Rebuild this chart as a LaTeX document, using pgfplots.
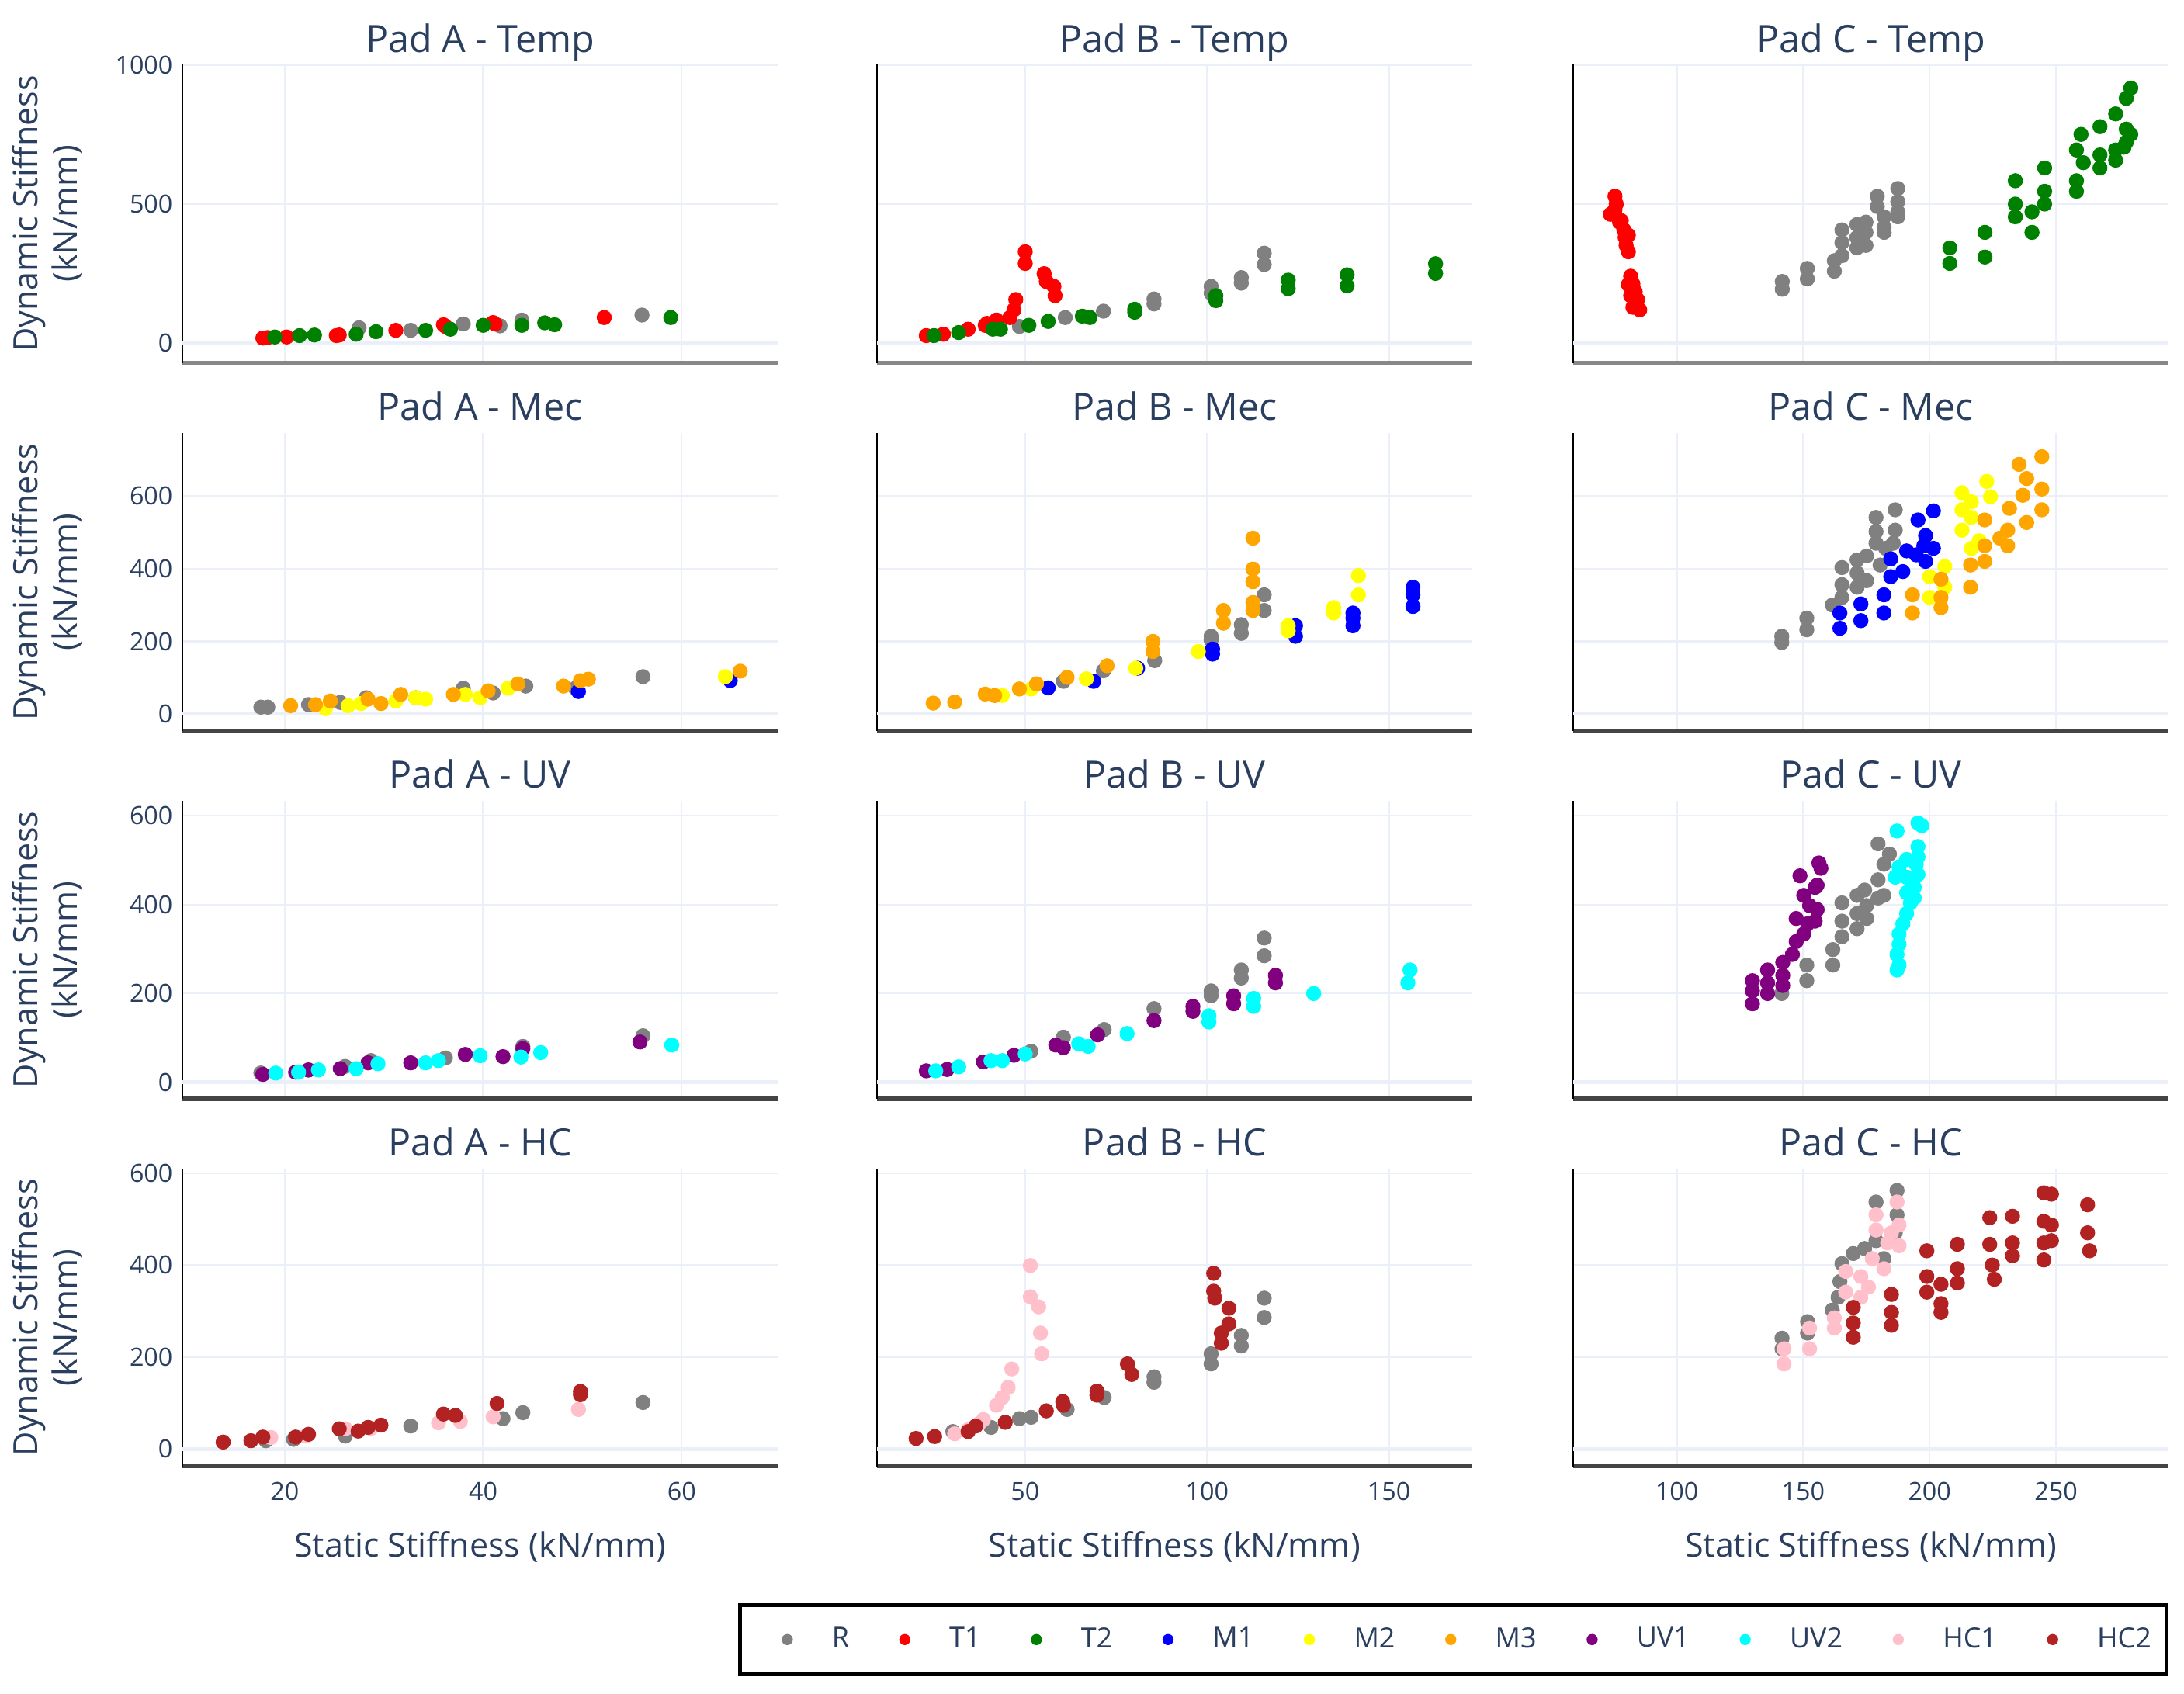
\documentclass[border=0pt]{standalone}
\usepackage{fontspec}
\setmainfont{Open Sans}
\usepackage{pgfplots}
\pgfplotsset{compat=1.18}
\definecolor{cR}{HTML}{808080}
\definecolor{cT1}{HTML}{FF0000}
\definecolor{cT2}{HTML}{008000}
\definecolor{cM1}{HTML}{0000FF}
\definecolor{cM2}{HTML}{FFFF00}
\definecolor{cM3}{HTML}{FFA500}
\definecolor{cUV1}{HTML}{800080}
\definecolor{cUV2}{HTML}{00FFFF}
\definecolor{cHC1}{HTML}{FFC0CB}
\definecolor{cHC2}{HTML}{B22222}
\definecolor{gridc}{HTML}{EBF0F8}
\definecolor{txt}{HTML}{2A3F5F}
\definecolor{lineA}{HTML}{888888}
\definecolor{lineB}{HTML}{444444}
\pgfplotsset{
  pad/.style={scale only axis, width=213.75pt, height=107pt, anchor=north west,
    axis lines=left, axis line style={-},
    y axis line style={black, line width=0.6pt},
    x axis line style={line width=1.4pt, color=#1},
    major tick length=0pt, grid=major, grid style={gridc, line width=0.6pt},
    extra y ticks={0}, extra y tick labels={}, extra y tick style={grid style={gridc, line width=1.3pt}},
    scaled ticks=false, /pgf/number format/1000 sep={}, /pgf/number format/assume math mode=true,
    tick label style={font=\fontsize{9}{10}\selectfont, text=txt},
    xticklabel style={yshift=-2pt},
    title style={font=\fontsize{13.5}{15}\selectfont, text=txt, at={(0.5,1)}, anchor=base, yshift=-1.5pt},
    every axis y label/.style={at={(axis description cs:-0.2269,0.5)}, rotate=90, anchor=center, align=center, font=\fontsize{12}{14}\selectfont, text=txt},
    every axis x label/.style={at={(axis description cs:0.5,-0.271)}, anchor=center, font=\fontsize{12}{14}\selectfont, text=txt},
  },
  colA/.style={xmin=9.7, xmax=69.7, xtick={20,40,60}},
  colB/.style={xmin=9.2, xmax=172.9, xtick={50,100,150}},
  colC/.style={xmin=59.0, xmax=294.6, xtick={100,150,200,250}},
  mk/.style={only marks, mark=*, mark size=2.5pt, color=#1, mark options={draw=none, fill=#1},
    legend image code/.code={\path[draw=none,fill=none] (-3pt,-3pt) rectangle (3pt,3pt); \path[draw=none,fill=#1] (0pt,0pt) circle (2pt);}},
}
\begin{document}
\begin{tikzpicture}
\useasboundingbox (0pt,0pt) rectangle (784pt,-608pt);
% ---------------- Row 1: Temp
\begin{axis}[pad=lineA, colA, at={(65.5pt,-23.25pt)}, ymin=-72, ymax=1002, ytick={0,500,1000}, xticklabels={},
  title={Pad A - Temp}, ylabel={Dynamic Stiffness\\(kN/mm)}]
\addplot[mk=cR] coordinates {(27.5,54)(32.7,45)(38.0,68)(41.7,61)(43.9,82)(56.0,100)};
\addplot[mk=cT1] coordinates {(17.8,17)(18.3,19)(20.2,21)(25.2,26)(25.5,28)(31.2,45)(36.2,59)(36.0,65)(41.2,68)(41.0,73)(52.2,91)};
\addplot[mk=cT2] coordinates {(19.0,21)(21.5,26)(23.0,28)(27.2,31)(29.2,40)(34.2,45)(36.7,49)(40.0,63)(43.9,63)(46.2,72)(47.2,65)(58.9,91)};
\end{axis}
\begin{axis}[pad=lineA, colB, at={(314.75pt,-23.25pt)}, ymin=-72, ymax=1002, ytick={0,500,1000}, xticklabels={}, yticklabels={},
  title={Pad B - Temp}]
\addplot[mk=cR] coordinates {(48.4,59)(61.0,91)(71.5,114)(85.4,158)(85.4,140)(101.1,203)(101.1,179)(109.4,235)(109.4,215)(115.7,323)(115.7,282)};
\addplot[mk=cT1] coordinates {(22.8,26)(27.5,31)(34.3,49)(39.0,63)(39.5,70)(42.1,82)(45.8,91)(46.9,119)(47.4,156)(50,328)(50,286)(55.2,249)(55.8,221)(57.9,203)(58.2,170)};
\addplot[mk=cT2] coordinates {(24.9,26)(31.7,37)(41.1,49)(43.2,49)(51.0,63)(56.3,77)(65.7,96)(67.8,91)(80.1,121)(80.1,110)(102.4,152)(102.4,170)(122.3,226)(122.3,195)(138.5,245)(138.5,205)(162.8,285)(162.8,250)};
\end{axis}
\begin{axis}[pad=lineA, colC, at={(564.75pt,-23.25pt)}, ymin=-72, ymax=1002, ytick={0,500,1000}, xticklabels={}, yticklabels={},
  title={Pad C - Temp}]
\addplot[mk=cR] coordinates {(141.7,193)(141.7,221)(151.6,230)(151.6,268)(162.3,258)(162.3,296)(165.3,314)(165.3,361)(165.3,407)(171.2,342)(171.2,379)(171.2,426)(174.8,351)(174.8,398)(174.8,435)(179.3,528)(179.3,491)(182.0,416)(182.0,454)(182.0,398)(187.4,472)(187.4,509)(187.4,556)(187.4,454)};
\addplot[mk=cT1] coordinates {(75.5,528)(76,500)(73.7,463)(77.3,435)(79,407)(80.8,388)(79.9,351)(80.8,328)(75.5,480)(78,440)(79.5,380)(81.7,240)(82.6,212)(83.5,184)(84.4,156)(82.6,128)(85.3,119)(80.8,210)(81.7,170)(83.5,140)};
\addplot[mk=cT2] coordinates {(208.0,286)(208.0,342)(221.9,309)(221.9,398)(233.9,454)(233.9,584)(233.9,500)(240.5,472)(240.5,398)(245.5,630)(245.5,546)(245.5,500)(258.1,546)(258.1,584)(258.1,695)(259.9,751)(260.8,649)(267.4,779)(267.4,677)(267.4,630)(273.6,825)(273.6,658)(273.6,695)(277.8,770)(277.8,723)(277.8,881)(279.6,918)(276.9,705)(279.6,751)};
\end{axis}
% ---------------- Row 2: Mec
\begin{axis}[pad=lineB, colA, at={(65.5pt,-155.5pt)}, ymin=-47, ymax=773, ytick={0,200,400,600}, xticklabels={},
  title={Pad A - Mec}, ylabel={Dynamic Stiffness\\(kN/mm)}]
\addplot[mk=cR] coordinates {(17.6,19)(18.3,19)(22.4,26)(25.6,32)(28.2,45)(33.2,45)(38.0,71)(41.0,58)(44.3,77)(49.3,71)(56.1,103)};
\addplot[mk=cM1] coordinates {(49.6,62)(64.9,92)};
\addplot[mk=cM2] coordinates {(24.1,15)(26.4,23)(27.7,29)(31.2,36)(33.2,45)(34.2,41)(38.2,54)(39.7,45)(42.5,71)(64.4,103)};
\addplot[mk=cM3] coordinates {(20.6,23)(23.1,26)(24.6,36)(28.4,41)(29.7,29)(31.7,54)(37.0,54)(40.5,64)(43.5,83)(48.1,77)(49.8,92)(50.6,96)(65.9,118)};
\end{axis}
\begin{axis}[pad=lineB, colB, at={(314.75pt,-155.5pt)}, ymin=-47, ymax=773, ytick={0,200,400,600}, xticklabels={}, yticklabels={},
  title={Pad B - Mec}]
\addplot[mk=cR] coordinates {(60.5,90)(71.5,119)(85.6,147)(101.1,204)(101.1,214)(109.4,246)(109.4,222)(115.7,328)(115.7,285)};
\addplot[mk=cM1] coordinates {(56.3,72)(68.8,90)(80.9,126)(101.5,165)(101.5,179)(124.3,214)(124.3,243)(140.1,243)(140.1,278)(140.1,264)(156.6,349)(156.6,328)(156.6,296)};
\addplot[mk=cM2] coordinates {(43.7,51)(51.6,69)(66.8,97)(80.4,126)(97.6,172)(122.3,229)(122.3,243)(134.8,278)(134.8,293)(141.6,381)(141.6,328)};
\addplot[mk=cM3] coordinates {(24.7,30)(30.6,33)(39.0,55)(41.6,51)(48.4,69)(53.1,83)(61.5,101)(72.5,133)(85.1,200)(85.1,172)(104.5,285)(104.5,250)(112.6,484)(112.6,399)(112.6,364)(112.6,307)(112.6,285)};
\end{axis}
\begin{axis}[pad=lineB, colC, at={(564.75pt,-155.5pt)}, ymin=-47, ymax=773, ytick={0,200,400,600}, xticklabels={}, yticklabels={},
  title={Pad C - Mec}]
\addplot[mk=cR] coordinates {(141.5,214)(141.5,197)(151.4,264)(151.4,232)(161.5,300)(165.3,321)(165.3,356)(165.3,403)(171.3,349)(171.3,388)(171.3,424)(175.1,367)(175.1,435)(178.8,470)(178.8,502)(178.8,541)(180.4,410)(182.6,456)(186.4,506)(186.4,562)(185.6,470)};
\addplot[mk=cM1] coordinates {(164.5,278)(164.5,236)(172.8,303)(172.8,257)(181.9,328)(181.9,278)(184.6,378)(184.6,427)(189.4,392)(190.9,449)(194.7,438)(195.4,534)(198.4,491)(198.4,420)(201.5,559)(201.5,456)(197.7,463)};
\addplot[mk=cM2] coordinates {(200.0,378)(200.0,321)(206.0,406)(206.0,349)(212.8,609)(212.8,562)(212.8,506)(216.5,584)(216.5,541)(219.6,477)(222.6,640)(224.1,598)(216.5,456)};
\addplot[mk=cM3] coordinates {(193.2,328)(193.2,278)(204.5,371)(204.5,321)(204.5,293)(216.2,410)(216.2,349)(221.8,534)(221.8,463)(221.8,420)(227.8,484)(230.9,506)(231.6,566)(235.4,687)(236.9,602)(238.4,648)(238.4,527)(244.4,708)(244.4,619)(244.4,562)(230.9,463)};
\end{axis}
% ---------------- Row 3: UV
\begin{axis}[pad=lineB, colA, at={(65.5pt,-287.5pt)}, ymin=-37, ymax=634, ytick={0,200,400,600}, xticklabels={},
  title={Pad A - UV}, ylabel={Dynamic Stiffness\\(kN/mm)}]
\addplot[mk=cR] coordinates {(17.6,21)(22.4,28)(26.1,36)(28.7,49)(36.2,55)(44.0,81)(56.1,105)};
\addplot[mk=cUV1] coordinates {(17.8,18)(21.1,23)(22.4,28)(25.6,31)(28.4,44)(32.7,44)(38.2,63)(42.0,58)(44.0,76)(55.8,91)};
\addplot[mk=cUV2] coordinates {(19.1,21)(21.4,23)(23.4,28)(27.2,31)(29.4,42)(34.2,44)(35.5,49)(39.7,60)(43.8,57)(45.8,67)(59.0,84)};
\end{axis}
\begin{axis}[pad=lineB, colB, at={(314.75pt,-287.5pt)}, ymin=-37, ymax=634, ytick={0,200,400,600}, xticklabels={}, yticklabels={},
  title={Pad B - UV}]
\addplot[mk=cR] coordinates {(51.6,70)(60.5,102)(71.7,119)(85.4,166)(101.1,195)(101.1,206)(109.4,235)(109.4,253)(115.7,325)(115.7,285)};
\addplot[mk=cUV1] coordinates {(22.8,26)(28.5,29)(38.5,46)(46.9,61)(58.4,84)(60.5,78)(69.9,107)(85.4,139)(96.1,171)(96.1,160)(107.3,195)(107.3,177)(118.8,241)(118.8,224)};
\addplot[mk=cUV2] coordinates {(25.4,26)(31.7,35)(40.6,49)(43.7,49)(50,64)(64.7,87)(67.3,81)(78.0,110)(100.5,136)(100.5,150)(112.8,171)(112.8,189)(129.3,200)(155.8,253)(155.2,224)};
\end{axis}
\begin{axis}[pad=lineB, colC, at={(564.75pt,-287.5pt)}, ymin=-37, ymax=634, ytick={0,200,400,600}, xticklabels={}, yticklabels={},
  title={Pad C - UV}]
\addplot[mk=cR] coordinates {(141.5,200)(151.4,264)(151.4,229)(161.7,299)(161.7,264)(165.3,328)(165.3,363)(165.3,404)(171.3,346)(171.3,380)(171.3,421)(175.1,369)(175.1,398)(174.3,433)(179.6,415)(179.6,456)(181.9,421)(181.9,491)(179.6,537)(184.1,514)};
\addplot[mk=cUV1] coordinates {(129.9,229)(129.9,206)(129.9,177)(135.9,253)(135.9,224)(135.9,200)(141.9,270)(141.9,241)(141.9,218)(145.7,288)(147.2,317)(150.2,334)(151.7,357)(154.7,363)(147.2,369)(152.5,398)(155.5,389)(150.2,421)(154.7,439)(155.5,444)(148.7,465)(156.2,494)(157.0,482)};
\addplot[mk=cUV2] coordinates {(187.1,566)(195.4,584)(196.9,578)(195.4,531)(195.4,508)(190.9,502)(187.9,485)(190.9,462)(195.4,468)(193.9,439)(190.9,427)(192.4,404)(190.9,380)(189.4,357)(187.9,334)(187.9,311)(187.1,288)(187.9,264)(187.1,253)(193.9,415)(194.7,491)(186.4,462)};
\end{axis}
% ---------------- Row 4: HC
\begin{axis}[pad=lineB, colA, at={(65.5pt,-419.5pt)}, ymin=-38, ymax=610, ytick={0,200,400,600},
  title={Pad A - HC}, ylabel={Dynamic Stiffness\\(kN/mm)}, xlabel={Static Stiffness (kN/mm)}]
\addplot[mk=cR] coordinates {(18.1,18)(20.9,21)(26.1,28)(32.7,50)(42.0,66)(44.0,79)(56.1,101)};
\addplot[mk=cHC1] coordinates {(18.6,25)(22.1,28)(26.1,44)(28.7,45)(35.5,57)(37.7,60)(41.0,70)(49.6,86)};
\addplot[mk=cHC2] coordinates {(13.8,15)(16.6,18)(17.8,26)(21.1,26)(22.4,32)(25.5,44)(27.4,39)(28.4,47)(29.7,52)(36.0,76)(37.2,73)(41.4,99)(49.8,125)(49.8,118)};
\end{axis}
\begin{axis}[pad=lineB, colB, at={(314.75pt,-419.5pt)}, ymin=-38, ymax=610, ytick={0,200,400,600}, yticklabels={},
  title={Pad B - HC}, xlabel={Static Stiffness (kN/mm)}]
\addplot[mk=cR] coordinates {(30.1,38)(40.6,47)(48.4,66)(51.6,69)(61.5,86)(71.7,112)(85.4,157)(85.4,145)(101.1,207)(101.1,185)(109.4,247)(109.4,224)(115.7,328)(115.7,286)};
\addplot[mk=cHC1] coordinates {(30.6,33)(34.3,42)(37.4,56)(38.5,64)(42.1,95)(43.7,112)(45.3,134)(46.3,174)(54.5,207)(54.2,252)(53.7,309)(51.4,331)(51.4,399)};
\addplot[mk=cHC2] coordinates {(20.0,23)(25.1,27)(34.3,38)(36.4,50)(44.5,58)(55.8,83)(60.3,103)(60.5,95)(69.7,126)(69.7,117)(78.1,185)(79.3,162)(101.8,382)(101.8,343)(102.1,328)(103.9,252)(103.9,230)(106.0,306)(106.0,272)};
\end{axis}
\begin{axis}[pad=lineB, colC, at={(564.75pt,-419.5pt)}, ymin=-38, ymax=610, ytick={0,200,400,600}, yticklabels={},
  title={Pad C - HC}, xlabel={Static Stiffness (kN/mm)},
  legend columns=10, legend cell align=left,
  legend style={at={(1,-0.458)}, anchor=north east, draw=black, line width=1.5pt, fill=white,
    inner xsep=3.5pt, inner ysep=6pt, font=\fontsize{10}{12}\selectfont, text=txt,
    /tikz/every odd column/.append style={column sep=11pt},
    /tikz/every even column/.append style={column sep=15pt}}]
\addlegendimage{mk=cR, legend image code/.code={\path[draw=none,fill=none] (-13.4pt,-3pt) rectangle (3pt,3pt); \path[draw=none,fill=cR] (0pt,0pt) circle (2pt);}}
\addlegendimage{mk=cT1}
\addlegendimage{mk=cT2}
\addlegendimage{mk=cM1}
\addlegendimage{mk=cM2}
\addlegendimage{mk=cM3}
\addlegendimage{mk=cUV1}
\addlegendimage{mk=cUV2}
\addlegendimage{mk=cHC1}
\addlegendimage{mk=cHC2}
\addplot[mk=cR, forget plot] coordinates {(141.6,241)(141.6,218)(151.7,277)(151.7,252)(161.5,302)(163.8,330)(164.5,364)(165.3,403)(169.8,425)(174.3,436)(178.8,537)(187.1,562)(187.1,509)(178.8,453)(181.9,414)(186.4,470)};
\addplot[mk=cHC1, forget plot] coordinates {(142.4,218)(142.4,185)(152.5,263)(152.5,218)(162.3,285)(162.3,263)(166.8,386)(166.8,341)(172.8,375)(172.8,330)(175.8,352)(177.3,414)(178.8,476)(178.8,509)(181.9,392)(183.4,448)(187.1,537)(187.9,487)(187.9,442)(184.9,470)};
\addplot[mk=cHC2, forget plot] coordinates {(169.8,308)(169.8,274)(169.8,243)(184.9,336)(184.9,297)(184.9,269)(198.9,431)(198.9,375)(198.9,341)(204.5,358)(204.5,316)(204.5,297)(211.0,445)(211.0,392)(211.0,361)(223.8,503)(223.8,445)(224.8,400)(225.6,369)(232.8,506)(232.8,448)(232.8,420)(245.2,557)(245.2,495)(245.2,448)(245.2,411)(248.2,554)(248.2,487)(248.2,453)(262.5,531)(262.5,470)(263.3,431)};
\legend{R,T1,T2,M1,M2,M3,UV1,UV2,HC1,HC2}
\end{axis}
\end{tikzpicture}
\end{document}
